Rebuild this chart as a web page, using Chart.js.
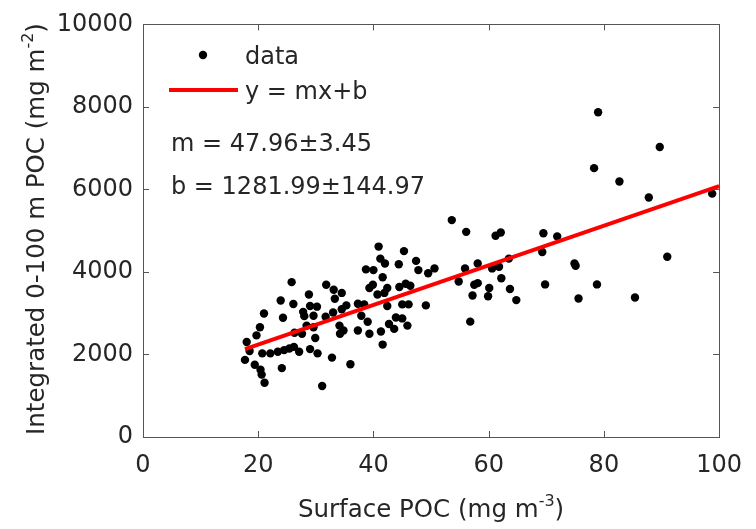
<!DOCTYPE html>
<html>
<head>
<meta charset="utf-8">
<script src="https://cdn.jsdelivr.net/npm/chart.js@4/dist/chart.umd.min.js"></script>
<style>
  html, body { margin: 0; padding: 0; background: #fff; }
  canvas { display: block; }
</style>
</head>
<body>
<canvas id="pocChart" width="756" height="529"></canvas>
<script>
// surface POC (mg m-3) vs integrated 0-100 m POC (mg m-2)
const surfacePOC = [
  79.0, 89.7, 78.3, 82.7, 87.8, 98.8, 69.5, 71.9, 69.3, 74.9, 75.1, 91.0, 69.8, 78.8, 75.6, 85.4,
  53.6, 56.1, 61.2, 62.1, 58.1, 55.9, 60.6, 61.8, 63.5, 54.8, 57.5, 58.1, 62.2, 60.1, 57.2, 59.9, 63.7, 64.8, 56.8,
  40.9, 45.3, 41.2, 42.0, 44.4, 47.4, 47.8, 38.7, 40.0, 41.6, 49.5, 50.6, 39.9, 39.3, 42.4, 44.5, 45.6, 46.4,
  40.7, 41.9, 45.0, 46.1, 49.1, 42.4, 37.3, 38.4, 35.3, 37.9, 39.0, 43.9, 45.0, 45.9, 42.7, 43.6, 37.3, 39.3,
  41.3, 34.8, 41.6, 36.0,
  25.8, 31.8, 33.1, 28.8, 34.5, 23.9, 26.1, 33.3, 29.0, 30.2, 21.0, 24.3, 27.8, 28.0, 29.6, 31.7, 33.0, 34.5,
  20.3, 28.4, 29.6, 34.1, 19.7, 26.3, 27.6, 29.9, 34.2, 18.0, 18.5, 20.7, 22.1, 23.4, 24.5, 25.4, 26.2, 27.1,
  29.0, 30.3, 32.8, 17.7, 19.4, 20.4, 20.6, 21.1, 24.1, 31.1
];
const integratedPOC = [
  7870, 7030, 6516, 6193, 5803, 5898, 4940, 4862, 4482, 4204, 4150, 4370, 3698, 3698, 3357, 3380,
  5257, 4972, 4877, 4957, 4204, 4086, 4086, 4125, 4323, 3769, 3689, 3729, 3848, 3610, 3428, 3413, 3587, 3318, 2796,
  4615, 4505, 4323, 4204, 4188, 4268, 4045, 4062, 4045, 3872, 3967, 4086, 3689, 3610, 3610, 3634, 3713, 3666,
  3452, 3492, 3214, 3214, 3190, 3176, 3230, 3214, 3190, 2938, 2795, 2898, 2874, 2700, 2739, 2620, 2582, 2501,
  2558, 2582, 2240, 1765,
  3753, 3689, 3570, 3452, 3492, 3309, 3223, 3349, 3176, 3159, 2993, 2891, 3033, 2929, 2938, 2914, 3017, 3095,
  2660, 2700, 2660, 2700, 2463, 2525, 2501, 2399, 2501, 2304, 2083, 2027, 2027, 2067, 2106, 2146, 2185, 2067,
  2130, 2027, 1924, 1869, 1750, 1631, 1512, 1314, 1670, 1235
];

// fit results shown on the plot
const slope = 47.96, slopeErr = 3.45;
const intercept = 1281.99, interceptErr = 144.97;
const fitX = [17.7, 100];

const xTicks = [0, 20, 40, 60, 80, 100];
const yTicks = [0, 2000, 4000, 6000, 8000, 10000];

const FONT = '"DejaVu Sans", sans-serif';
const TEXT = '#262626';

const points = surfacePOC.map((x, i) => ({ x: x, y: integratedPOC[i] }));
const fitLine = fitX.map(x => ({ x: x, y: slope * x + intercept }));

// axes box, inward ticks, titles with superscripts, legend and fit text
const matlabAxes = {
  id: 'matlabAxes',
  afterDraw(chart) {
    const ctx = chart.ctx;
    const a = chart.chartArea;
    const xs = chart.scales.x, ys = chart.scales.y;
    ctx.save();
    ctx.strokeStyle = '#555';
    ctx.lineWidth = 1;
    ctx.strokeRect(Math.round(a.left) + 0.5, Math.round(a.top) + 0.5,
      Math.round(a.right - a.left), Math.round(a.bottom - a.top));
    const tl = 6;
    ctx.beginPath();
    xTicks.forEach(v => {
      const px = Math.round(xs.getPixelForValue(v)) + 0.5;
      ctx.moveTo(px, a.bottom); ctx.lineTo(px, a.bottom - tl);
      ctx.moveTo(px, a.top); ctx.lineTo(px, a.top + tl);
    });
    yTicks.forEach(v => {
      const py = Math.round(ys.getPixelForValue(v)) + 0.5;
      ctx.moveTo(a.left, py); ctx.lineTo(a.left + tl, py);
      ctx.moveTo(a.right, py); ctx.lineTo(a.right - tl, py);
    });
    ctx.stroke();

    ctx.fillStyle = TEXT;
    ctx.textBaseline = 'alphabetic';
    // x title
    drawSup(ctx, 'Surface POC (mg m', '-3', ')', (a.left + a.right) / 2, 517, true);
    // y title
    ctx.save();
    ctx.translate(44, 229);
    ctx.rotate(-Math.PI / 2);
    drawSup(ctx, 'Integrated 0-100 m POC (mg m', '-2', ')', 0, 0, true);
    ctx.restore();

    // legend
    const ds = chart.data.datasets;
    ctx.font = '24px ' + FONT;
    ctx.textAlign = 'left';
    ctx.beginPath();
    ctx.arc(203, 55, 4.2, 0, Math.PI * 2);
    ctx.fillStyle = '#000';
    ctx.fill();
    ctx.fillStyle = TEXT;
    ctx.fillText(ds[1].label, 245, 64);
    ctx.strokeStyle = '#ff0000';
    ctx.lineWidth = 4;
    ctx.beginPath();
    ctx.moveTo(169, 90); ctx.lineTo(238, 90);
    ctx.stroke();
    ctx.fillText(ds[0].label, 245, 99);

    ctx.fillText('m = ' + slope.toFixed(2) + '\u00b1' + slopeErr.toFixed(2), 171, 151);
    ctx.fillText('b = ' + intercept.toFixed(2) + '\u00b1' + interceptErr.toFixed(2), 171, 194);
    ctx.restore();
  }
};

function drawSup(ctx, main, sup, tail, x, y, centered) {
  ctx.font = '24.5px ' + FONT;
  const w1 = ctx.measureText(main).width;
  const w3 = ctx.measureText(tail).width;
  ctx.font = '16px ' + FONT;
  const w2 = ctx.measureText(sup).width;
  let sx = centered ? x - (w1 + w2 + w3) / 2 : x;
  ctx.textAlign = 'left';
  ctx.font = '24.5px ' + FONT;
  ctx.fillText(main, sx, y);
  ctx.font = '16px ' + FONT;
  ctx.fillText(sup, sx + w1, y - 11);
  ctx.font = '24.5px ' + FONT;
  ctx.fillText(tail, sx + w1 + w2, y);
}

new Chart(document.getElementById('pocChart'), {
  type: 'scatter',
  data: {
    datasets: [
      {
        type: 'line',
        label: 'y = mx+b',
        data: fitLine,
        borderColor: '#ff0000',
        borderWidth: 4,
        pointRadius: 0,
        fill: false,
        order: 0
      },
      {
        label: 'data',
        data: points,
        backgroundColor: '#000',
        borderWidth: 0,
        pointRadius: 4.2,
        order: 1
      }
    ]
  },
  options: {
    responsive: false,
    animation: false,
    devicePixelRatio: 1,
    layout: { padding: { left: 0, top: 16, right: 27, bottom: 0 } },
    plugins: { legend: { display: false }, tooltip: { enabled: false } },
    scales: {
      x: {
        type: 'linear',
        min: 0, max: 100,
        afterBuildTicks: s => { s.ticks = xTicks.map(v => ({ value: v })); },
        ticks: { font: { family: FONT, size: 24 }, color: TEXT, padding: 14, maxRotation: 0,
                 callback: v => String(v) },
        grid: { display: false, drawTicks: false },
        border: { display: false },
        afterFit: s => { s.height = 92; }
      },
      y: {
        type: 'linear',
        min: 0, max: 10000,
        afterBuildTicks: s => { s.ticks = yTicks.map(v => ({ value: v })); },
        ticks: { font: { family: FONT, size: 24 }, color: TEXT, padding: 10,
                 callback: v => String(v) },
        grid: { display: false, drawTicks: false },
        border: { display: false },
        afterFit: s => { s.width = 143; }
      }
    }
  },
  plugins: [matlabAxes]
});
</script>
</body>
</html>
